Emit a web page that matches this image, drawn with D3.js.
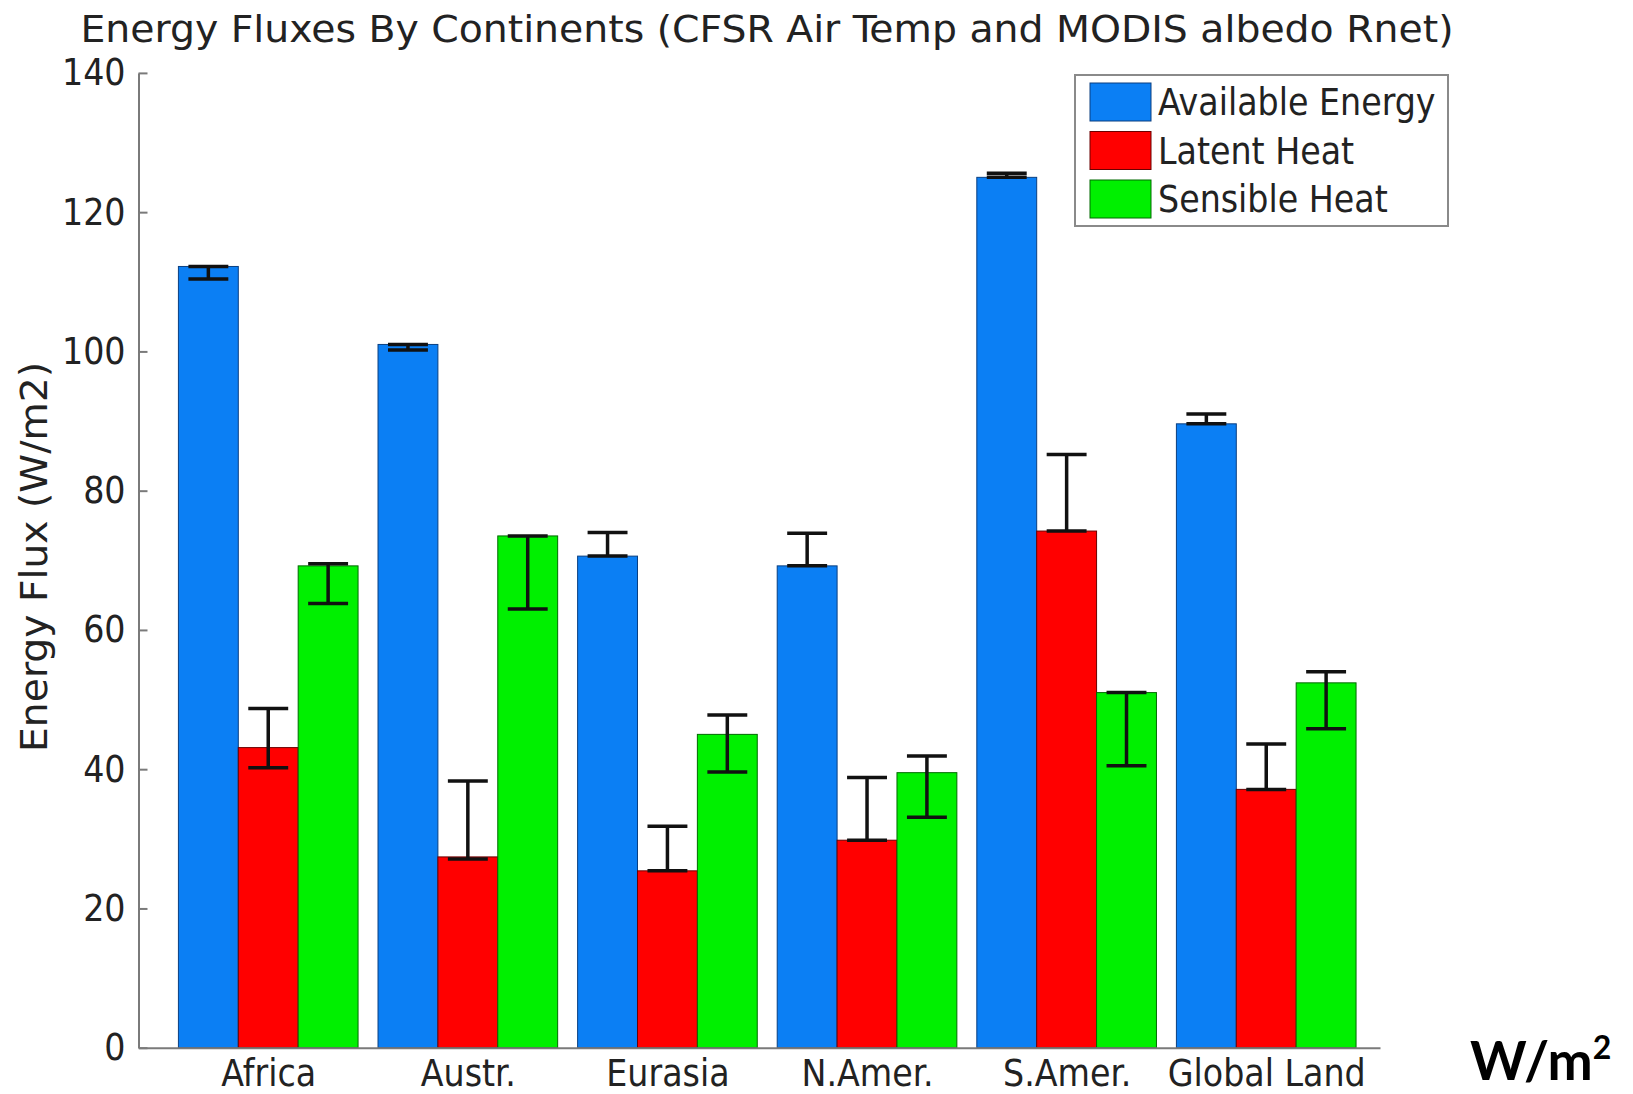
<!DOCTYPE html>
<html>
<head>
<meta charset="utf-8">
<script src="https://cdn.jsdelivr.net/npm/d3@7"></script>
<style>
  body { margin: 0; background: #fff; }
  text { font-family: "Liberation Sans Narrow", "DejaVu Sans Condensed", "Liberation Sans", sans-serif; fill: #222; }
</style>
</head>
<body>
<div class="chart"></div>
<script>
// data
var continents = ["Africa", "Austr.", "Eurasia", "N.Amer.", "S.Amer.", "Global Land"];
var seriesNames = ["Available Energy", "Latent Heat", "Sensible Heat"];
var seriesColors = ["#0b7ff4", "#ff0000", "#00f000"];
var seriesEdges = ["#0a3f80", "#6a0000", "#006a00"];

var availableEnergy = [112.2, 101.0, 70.6, 69.2, 125.0, 89.6];
var latentHeat      = [43.1, 27.4, 25.4, 29.8, 74.2, 37.1];
var sensibleHeat    = [69.2, 73.5, 45.0, 39.5, 51.0, 52.4];

// error bar ends (low, high)
var availableLow  = [110.4, 100.2, 70.6, 69.2, 125.0, 89.6];
var availableHigh = [112.2, 101.0, 74.0, 73.9, 125.6, 91.0];
var latentLow     = [40.2, 27.1, 25.4, 29.8, 74.2, 37.1];
var latentHigh    = [48.7, 38.3, 31.8, 38.8, 85.2, 43.6];
var sensibleLow   = [63.8, 63.0, 39.6, 33.1, 40.5, 45.8];
var sensibleHigh  = [69.5, 73.5, 47.8, 41.9, 51.0, 54.0];

var yTicks = [0, 20, 40, 60, 80, 100, 120, 140];

var values = [availableEnergy, latentHeat, sensibleHeat];
var lows = [availableLow, latentLow, sensibleLow];
var highs = [availableHigh, latentHigh, sensibleHigh];

// set SVG canvas
var width = 1633, height = 1094;
var svg = d3.select(".chart")
  .append("svg")
    .attr("width", width)
    .attr("height", height);

// scales (MATLAB-like group positions 1..6)
var x = d3.scaleLinear()
  .domain([0.35, 6.57])
  .range([138.5, 1380]);
var y = d3.scaleLinear()
  .domain([0, 140])
  .range([1047.7, 72.9]);

var barW = 0.3;
var offsets = [-0.3, 0, 0.3];

// flatten to bar records
var bars = [];
values.forEach(function(vals, s) {
  vals.forEach(function(v, i) {
    bars.push({ s: s, i: i, v: v, lo: lows[s][i], hi: highs[s][i] });
  });
});

function i1(d) { return d.i + 1; }

// bars
svg.selectAll(".bar")
  .data(bars)
  .enter().append("rect")
    .attr("class", "bar")
    .attr("x", function(d) { return x(i1(d) + offsets[d.s] - barW / 2); })
    .attr("width", function(d) { return x(barW) - x(0); })
    .attr("y", function(d) { return y(d.v); })
    .attr("height", function(d) { return y(0) - y(d.v); })
    .attr("fill", function(d) { return seriesColors[d.s]; })
    .attr("stroke", function(d) { return seriesEdges[d.s]; })
    .attr("stroke-width", 1);

// error bars
var capHalf = 0.1;
var eb = svg.selectAll(".err")
  .data(bars)
  .enter().append("g")
    .attr("class", "err")
    .attr("stroke", "#111")
    .attr("stroke-width", 3.5);

eb.append("line")
  .attr("x1", function(d) { return x(i1(d) + offsets[d.s]); })
  .attr("x2", function(d) { return x(i1(d) + offsets[d.s]); })
  .attr("y1", function(d) { return y(d.lo); })
  .attr("y2", function(d) { return y(d.hi); });
eb.append("line")
  .attr("x1", function(d) { return x(i1(d) + offsets[d.s] - capHalf); })
  .attr("x2", function(d) { return x(i1(d) + offsets[d.s] + capHalf); })
  .attr("y1", function(d) { return y(d.lo); })
  .attr("y2", function(d) { return y(d.lo); });
eb.append("line")
  .attr("x1", function(d) { return x(i1(d) + offsets[d.s] - capHalf); })
  .attr("x2", function(d) { return x(i1(d) + offsets[d.s] + capHalf); })
  .attr("y1", function(d) { return y(d.hi); })
  .attr("y2", function(d) { return y(d.hi); });

// y axis
var yAxis = svg.append("g")
  .attr("transform", "translate(" + x(0.35) + ",0)")
  .call(d3.axisLeft(y).tickValues(yTicks).tickSizeInner(-9).tickSizeOuter(0).tickPadding(13));
yAxis.select(".domain").attr("stroke", "#7a7a7a").attr("stroke-width", 2);
yAxis.selectAll(".tick line").attr("stroke", "#7a7a7a").attr("stroke-width", 2);
yAxis.selectAll(".tick text")
  .attr("font-size", "37px")
  .attr("fill", "#222")
  .style("font-family", "'Liberation Sans Narrow', 'DejaVu Sans Condensed', sans-serif");

// x axis
var xAxis = svg.append("g")
  .attr("transform", "translate(0," + y(0) + ")")
  .call(d3.axisBottom(x).tickValues([1, 2, 3, 4, 5, 6])
    .tickFormat(function(d) { return continents[d - 1]; })
    .tickSize(0).tickPadding(12));
xAxis.select(".domain").attr("stroke", "#7a7a7a").attr("stroke-width", 2);
xAxis.selectAll(".tick text")
  .attr("font-size", "37px")
  .attr("fill", "#222")
  .style("font-family", "'Liberation Sans Narrow', 'DejaVu Sans Condensed', sans-serif");

// title
svg.append("text")
  .attr("x", 767)
  .attr("y", 42)
  .attr("text-anchor", "middle")
  .attr("font-size", "38px")
  .attr("textLength", 1373)
  .attr("lengthAdjust", "spacingAndGlyphs")
  .text("Energy Fluxes By Continents (CFSR Air Temp and MODIS albedo Rnet)");

// y label
svg.append("text")
  .attr("transform", "translate(47,557) rotate(-90)")
  .attr("text-anchor", "middle")
  .attr("font-size", "37px")
  .attr("textLength", 390)
  .attr("lengthAdjust", "spacingAndGlyphs")
  .text("Energy Flux (W/m2)");

// legend
var legend = svg.append("g")
  .attr("transform", "translate(1075,75)");
legend.append("rect")
  .attr("width", 373)
  .attr("height", 151)
  .attr("fill", "#fff")
  .attr("stroke", "#8a8a8a")
  .attr("stroke-width", 2);

seriesNames.forEach(function(name, i) {
  var row = legend.append("g")
    .attr("transform", "translate(15," + (8 + i * 48.5) + ")");
  row.append("rect")
    .attr("width", 61)
    .attr("height", 38)
    .attr("fill", seriesColors[i])
    .attr("stroke", seriesEdges[i])
    .attr("stroke-width", 1);
  row.append("text")
    .attr("x", 68)
    .attr("y", 19)
    .attr("dy", "0.36em")
    .attr("font-size", "37px")
    .text(name);
});

// unit note
var unit = svg.append("text")
  .attr("x", 1470)
  .attr("y", 1080)
  .attr("font-size", "54px")
  .attr("font-weight", "bold")
  .style("font-family", "Lato, 'Open Sans', sans-serif")
  .style("fill", "#000");
unit.append("tspan").text("W/m");
unit.append("tspan")
  .attr("font-size", "32px")
  .attr("dy", "-21")
  .text("2");
</script>
</body>
</html>
